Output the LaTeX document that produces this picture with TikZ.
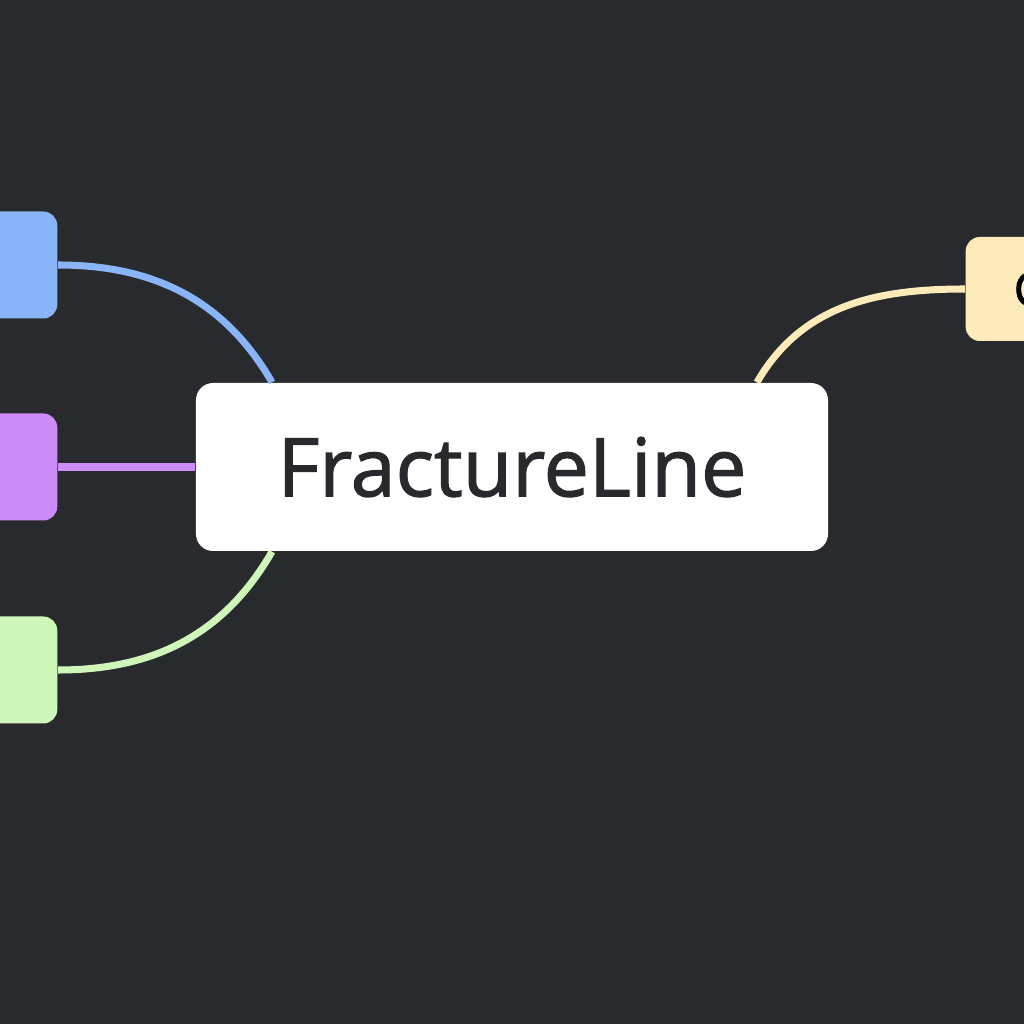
\documentclass[tikz,border=0pt]{standalone}
\usepackage{fontspec}
\setmainfont{Open Sans}
\usetikzlibrary{positioning}
\definecolor{bg}{RGB}{41,42,46}
\definecolor{ink}{RGB}{40,41,45}
\definecolor{leafblue}{RGB}{138,180,248}
\definecolor{leafpurple}{RGB}{206,140,248}
\definecolor{leafgreen}{RGB}{206,247,185}
\definecolor{leafyellow}{RGB}{253,236,186}

\begin{document}
\begin{tikzpicture}[
    leaf/.style={rounded corners=0.14cm, minimum width=1.4cm, minimum height=1.07cm, inner sep=0pt},
    branch/.style={line width=2pt}
]
    \fill[bg](0,0) rectangle (10.24,10.24);
    \clip(0,0) rectangle (10.24,10.24);
    \node[fill=white, rounded corners=0.17cm, minimum width=6.32cm, minimum height=1.68cm, text=ink, font=\fontsize{23}{27}\selectfont\addfontfeatures{FakeBold=1.5}] (core) at (5.12,5.57){FractureLine};
    \node[leaf, fill=leafblue, anchor=east] (blue) at (0.58,7.59){};
    \node[leaf, fill=leafpurple, anchor=east] (purple) at (0.58,5.57){};
    \node[leaf, fill=leafgreen, anchor=east] (green) at (0.58,3.54){};
    \node[leaf, fill=leafyellow, anchor=west, minimum width=0pt, minimum height=1.04cm, inner xsep=0.48cm, font=\fontsize{13.5}{15}\selectfont\addfontfeatures{FakeBold=1.5}, text=black] (yellow) at (9.65,7.35){C};
    \draw[branch, leafblue](blue.east) to[out=0,in=120] ([xshift=-2.4cm]core.north);
    \draw[branch, leafpurple](purple.east) -- (core.west);
    \draw[branch, leafgreen](green.east) to[out=0,in=-120] ([xshift=-2.4cm]core.south);
    \draw[branch, leafyellow](yellow.west) to[out=180,in=60] ([xshift=2.45cm]core.north);
\end{tikzpicture}
\end{document}
